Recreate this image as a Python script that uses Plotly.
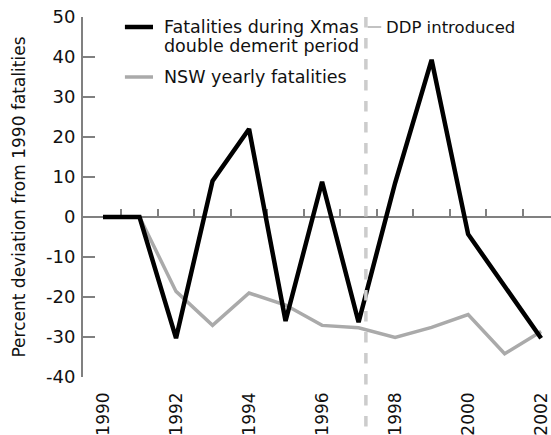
import plotly.graph_objects as go

years = list(range(1990, 2003))
xmas_ddp = [0, 0, -30.3, 9.0, 22.0, -26.0, 8.8, -26.3, 8.5, 39.3, -4.3, -17.3, -30.3]
nsw_yearly = [0, 0, -18.6, -27.1, -19.0, -22.0, -27.1, -27.7, -30.1, -27.6, -24.4, -34.2, -28.6]
x_tick_labels = ["1990", "1992", "1994", "1996", "1998", "2000", "2002"]
y_ticks = [-40, -30, -20, -10, 0, 10, 20, 30, 40, 50]
ddp_year = 1997.2

FONT = "DejaVu Sans"
AX = "#808080"

fig = go.Figure()
fig.add_trace(go.Scatter(x=years, y=nsw_yearly, mode="lines",
                         line=dict(color="#aaaaaa", width=3.5), showlegend=False))
fig.add_trace(go.Scatter(x=years, y=xmas_ddp, mode="lines",
                         line=dict(color="#000000", width=4.5), showlegend=False))
# invisible trace to carry the zero-line axis with half-year ticks
fig.add_trace(go.Scatter(x=[years[0], years[-1]], y=[0, 0], xaxis="x2", mode="none",
                         showlegend=False, hoverinfo="skip"))

xr = [1989.452, 2002.27]
fig.update_layout(
    width=551, height=435,
    margin=dict(l=83, r=0, t=17, b=58),
    paper_bgcolor="white", plot_bgcolor="white",
    font=dict(family=FONT, size=15, color="#111"),
    xaxis=dict(range=xr, tickvals=[int(t) for t in x_tick_labels], ticktext=x_tick_labels,
               tickangle=-90, showgrid=False, zeroline=False, showline=False, ticks="",
               tickfont=dict(size=17), ticklabelstandoff=11, automargin=False),
    xaxis2=dict(range=xr, overlaying="x", anchor="free", position=40/90, side="top",
                showgrid=False, zeroline=False, showline=True, linecolor=AX, linewidth=2,
                ticks="outside", ticklen=7, tickwidth=1.5, tickcolor=AX, automargin=False,
                layer="below traces",
                tickvals=[y + 0.5 for y in years[:-1]], showticklabels=False),
    yaxis=dict(range=[-40, 50], tickvals=y_ticks, ticktext=[str(v) for v in y_ticks],
               showgrid=False, zeroline=False, showline=True, linecolor=AX, linewidth=2,
               ticks="inside", ticklen=12, tickwidth=1.5, tickcolor=AX, automargin=False,
               tickfont=dict(size=18), ticklabelstandoff=2,
               title=dict(text="Percent deviation from 1990 fatalities", font=dict(size=17), standoff=16)),
)

# DDP introduced vertical dashed line
fig.add_shape(type="line", x0=ddp_year, x1=ddp_year, y0=1.0, y1=-0.16,
              xref="x", yref="paper", line=dict(color="#cccccc", width=3.5, dash="dash"))
fig.add_shape(type="line", x0=ddp_year + 0.05, x1=ddp_year + 0.42, y0=47.5, y1=47.5,
              xref="x", yref="y", line=dict(color="#999999", width=1.2))
fig.add_annotation(x=ddp_year + 0.5, y=47.5, text="DDP introduced", showarrow=False,
                   xanchor="left", yanchor="middle", font=dict(size=16.5))

# legend drawn manually
fig.add_shape(type="line", x0=1990.60, x1=1991.37, y0=47.5, y1=47.5,
              line=dict(color="#000000", width=4.5))
fig.add_shape(type="line", x0=1990.60, x1=1991.37, y0=35, y1=35,
              line=dict(color="#aaaaaa", width=3.5))
fig.add_annotation(x=1991.62, y=47.5, text="Fatalities during Xmas", showarrow=False,
                   xanchor="left", yanchor="middle", font=dict(size=17.5))
fig.add_annotation(x=1991.62, y=42.8, text="double demerit period", showarrow=False,
                   xanchor="left", yanchor="middle", font=dict(size=17.5))
fig.add_annotation(x=1991.62, y=35, text="NSW yearly fatalities", showarrow=False,
                   xanchor="left", yanchor="middle", font=dict(size=17.5))

fig.write_html("out.html", config={"displayModeBar": False},
               post_script="document.body.style.margin='0';document.body.style.overflow='hidden';")
